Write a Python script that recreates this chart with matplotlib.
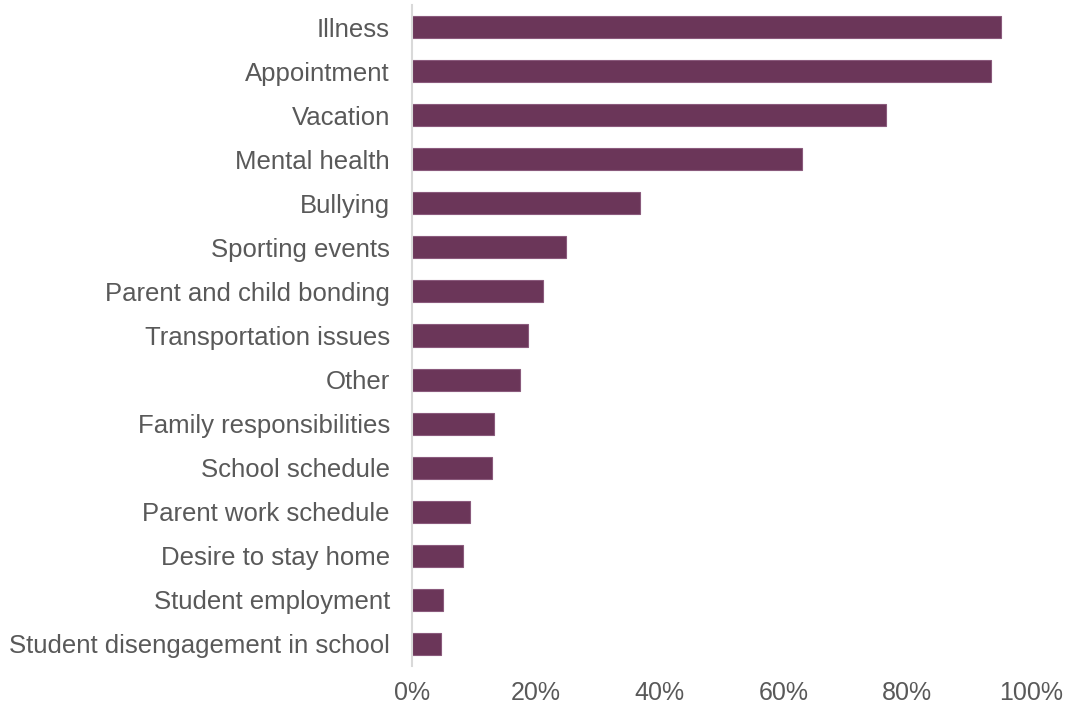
import matplotlib.pyplot as plt
from matplotlib.ticker import PercentFormatter

reasons = [
    "Illness",
    "Appointment",
    "Vacation",
    "Mental health",
    "Bullying",
    "Sporting events",
    "Parent and child bonding",
    "Transportation issues",
    "Other",
    "Family responsibilities",
    "School schedule",
    "Parent work schedule",
    "Desire to stay home",
    "Student employment",
    "Student disengagement in school",
]
shares = [95.1, 93.6, 76.5, 63.0, 36.9, 24.8, 21.1, 18.8, 17.5, 13.3, 12.9, 9.4, 8.3, 5.0, 4.7]

plt.rcParams["font.family"] = ["Liberation Sans", "DejaVu Sans"]

fig = plt.figure(figsize=(10.65, 7.06), dpi=100)
ax = fig.add_axes([412 / 1065, 1 - 666 / 706, (1031 - 412) / 1065, (666 - 5) / 706])

ypos = list(range(len(reasons)))
ax.barh(ypos, shares, height=0.5, color="#6b3659", edgecolor="#8a5a7c", linewidth=0.8)

ax.set_ylim(len(reasons) - 0.5, -0.5)
ax.set_xlim(0, 100)
ax.set_yticks(ypos)
ax.set_yticklabels(reasons)
ax.set_xticks(range(0, 101, 20))
ax.xaxis.set_major_formatter(PercentFormatter(decimals=0))

for side in ["top", "right", "bottom"]:
    ax.spines[side].set_visible(False)
ax.spines["left"].set_color("#d9d9d9")
ax.spines["left"].set_linewidth(1.5)

ax.tick_params(axis="y", length=0, pad=16, labelsize=18.5, labelcolor="#595959")
ax.tick_params(axis="x", length=0, pad=11, labelsize=18, labelcolor="#595959")

fig.savefig("out.png", dpi=100)
